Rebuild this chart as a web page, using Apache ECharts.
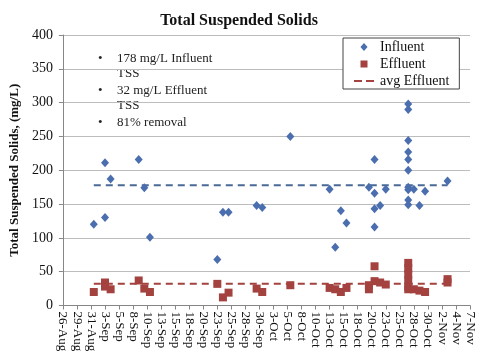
<!DOCTYPE html>
<html>
<head>
<meta charset="utf-8">
<script src="https://cdn.jsdelivr.net/npm/echarts@6/dist/echarts.min.js"></script>
<style>html,body{margin:0;padding:0;background:#fff}#c{width:478px;height:360px}</style>
</head>
<body>
<div id="c"></div>
<script>
// ---- data ----
var tickLabels = ['26-Aug','29-Aug','31-Aug','3-Sep','5-Sep','8-Sep','10-Sep','13-Sep','15-Sep','18-Sep','20-Sep','23-Sep','25-Sep','28-Sep','30-Sep','3-Oct','5-Oct','8-Oct','10-Oct','13-Oct','15-Oct','18-Oct','20-Oct','23-Oct','25-Oct','28-Oct','30-Oct','2-Nov','4-Nov','7-Nov'];
var influentDates = ['9/1','9/3','9/3','9/4','9/9','9/10','9/11','9/23','9/24','9/25','9/30','10/1','10/6','10/13','10/14','10/15','10/16','10/20','10/21','10/21','10/21','10/21','10/22','10/23','10/27','10/27','10/27','10/27','10/27','10/27','10/27','10/27','10/27','10/27','10/28','10/29','10/30','11/3'];
var influentValues = [120,211,130,187,216,174,101,68,138,138,148,145,250,172,86,140,122,175,216,166,143,116,148,172,298,290,244,227,216,200,175,171,156,149,172,148,169,184];
var effluentDates = ['9/1','9/3','9/3','9/4','9/9','9/10','9/11','9/23','9/24','9/25','9/30','10/1','10/6','10/13','10/14','10/15','10/16','10/20','10/20','10/21','10/21','10/22','10/23','10/27','10/27','10/27','10/27','10/27','10/27','10/28','10/29','10/30','11/3','11/3'];
var effluentValues = [20,34,28,24,37,25,20,32,12,19,25,20,30,26,24,20,26,30,24,58,36,34,31,63,55,46,37,28,24,24,22,20,39,34];
var avgDates = ['9/1','11/3'];
var avgInfluent = 178;
var avgEffluent = 32;
var annotations = ['178 mg/L Influent', 'TSS', '32 mg/L Effluent', 'TSS', '81% removal'];
var bulletRows = [0, 2, 4];

// axis origin: noon of 26-Aug (major unit 2.5 days)
function toX(s) {
  var p = s.split('/');
  var t = Date.UTC(2009, +p[0] - 1, +p[1]);
  return (t - Date.UTC(2009, 7, 26)) / 864e5 - 0.5;
}
function pairs(ds, vs) { return ds.map(function (d, i) { return [toX(d), vs[i]]; }); }

var serif = '"Liberation Serif", "DejaVu Serif", serif';
var blue = '#4a6eae', red = '#a3423f', blueLine = '#4a6996';

// legend icons inside a 22x8 box (corner anchors keep the box size)
var box = 'M0,0L0.01,0L0,0.01ZM22,8L21.99,8L22,7.99Z';
var iconDiamond = 'path://' + box + 'M7,4L11,-0.5L15,4L11,8.5Z';
var iconSquare = 'path://' + box + 'M7.5,0.5L14.5,0.5L14.5,7.5L7.5,7.5Z';
var iconDash = 'path://' + box + 'M1,3L9,3L9,5L1,5ZM13,3L21,3L21,5L13,5Z';

var chart = echarts.init(document.getElementById('c'), null, {renderer: 'canvas'});

var textY = [60, 75.5, 92, 107, 124];
var graphics = [];
annotations.forEach(function (t, i) {
  graphics.push({type: 'text', left: 117, top: textY[i] - 8, style: {text: t, font: '13px ' + serif, fill: '#222'}});
});
bulletRows.forEach(function (i) {
  graphics.push({type: 'text', left: 98, top: textY[i] - 8, style: {text: '\u2022', font: '13px ' + serif, fill: '#222'}});
});

chart.setOption({
  animation: false,
  backgroundColor: '#fff',
  title: {
    text: 'Total Suspended Solids', left: 'center', top: 8,
    textStyle: {fontFamily: serif, fontSize: 16, fontWeight: 'bold', color: '#111'}
  },
  legend: {
    orient: 'vertical', left: 343, top: 38,
    backgroundColor: '#fff', borderColor: '#444', borderWidth: 1,
    padding: [2, 10, 1, 10], itemGap: 3, itemWidth: 22, itemHeight: 8,
    textStyle: {fontFamily: serif, fontSize: 14, color: '#111', lineHeight: 14},
    data: [
      {name: 'Influent', icon: iconDiamond, itemStyle: {color: blue}},
      {name: 'Effluent', icon: iconSquare, itemStyle: {color: red}},
      {name: 'avg Effluent', icon: iconDash, itemStyle: {color: red}}
    ]
  },
  grid: {left: 48, top: 35, width: 422, height: 270.5},
  xAxis: {
    type: 'value', min: 0, max: 72.5, interval: 2.5,
    axisLine: {lineStyle: {color: '#868686'}},
    axisTick: {length: 4, lineStyle: {color: '#868686'}},
    splitLine: {show: false},
    axisLabel: {
      rotate: -90, margin: 6, fontFamily: serif, fontSize: 13, color: '#111',
      formatter: function (v) { return tickLabels[Math.round(v / 2.5)] || ''; }
    }
  },
  yAxis: {
    type: 'value', min: 0, max: 400, interval: 50,
    name: 'Total Suspended Solids, (mg/L)', nameLocation: 'middle', nameGap: 35,
    nameTextStyle: {fontFamily: serif, fontSize: 13, fontWeight: 'bold', color: '#111'},
    axisLine: {show: true, lineStyle: {color: '#868686'}},
    axisTick: {show: true, length: 4, lineStyle: {color: '#868686'}},
    splitLine: {lineStyle: {color: '#bdbdbd'}},
    axisLabel: {margin: 10, fontFamily: serif, fontSize: 14, color: '#111'}
  },
  series: [
    {
      name: 'avg Influent', type: 'line', data: pairs(avgDates, [avgInfluent, avgInfluent]),
      symbol: 'none', lineStyle: {color: blueLine, width: 2, type: [7, 5]}, z: 1
    },
    {
      name: 'avg Effluent', type: 'line', data: pairs(avgDates, [avgEffluent, avgEffluent]),
      symbol: 'none', itemStyle: {color: red}, lineStyle: {color: red, width: 2, type: [7, 5]}, z: 1
    },
    {
      name: 'Influent', type: 'scatter', data: pairs(influentDates, influentValues),
      symbol: 'diamond', symbolSize: [8, 9], itemStyle: {color: blue, opacity: 1}, z: 3
    },
    {
      name: 'Effluent', type: 'scatter', data: pairs(effluentDates, effluentValues),
      symbol: 'rect', symbolSize: 8, itemStyle: {color: red, opacity: 1}, z: 3
    }
  ],
  graphic: graphics
});
</script>
</body>
</html>
